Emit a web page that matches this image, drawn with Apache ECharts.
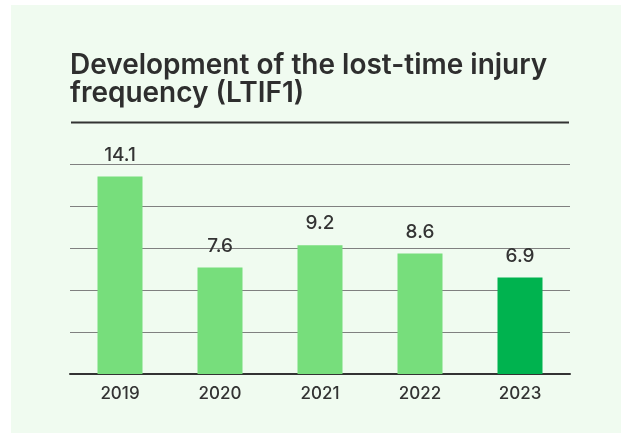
<!DOCTYPE html>
<html>
<head>
<meta charset="utf-8">
<script src="https://cdn.jsdelivr.net/npm/echarts@6/dist/echarts.min.js"></script>
<style>
html,body{margin:0;padding:0;background:#ffffff;}
#c{width:621px;height:433px;}
</style>
</head>
<body>
<div id="c"></div>
<script>
const years = ['2019', '2020', '2021', '2022', '2023'];
const ltif = [14.1, 7.6, 9.2, 8.6, 6.9];
const barColors = ['#77DE7C', '#77DE7C', '#77DE7C', '#77DE7C', '#00B34F'];
const titleLines = ['Development of the lost-time injury', 'frequency (LTIF1)'];

const chart = echarts.init(document.getElementById('c'), null, {renderer: 'canvas'});
chart.setOption({
  backgroundColor: '#ffffff',
  animation: false,
  graphic: [
    {type: 'rect', z: -10, shape: {x: 11, y: 5, width: 610, height: 428}, style: {fill: '#F0FBF0'}},
    {type: 'text', left: 70, top: 52, style: {text: titleLines.join('\n'), font: '600 28px Inter', fill: '#2E2E2E', lineHeight: 28}},
    {type: 'line', shape: {x1: 71, y1: 122.5, x2: 569, y2: 122.5}, style: {stroke: '#333333', lineWidth: 2}}
  ],
  grid: {left: 70, right: 51, top: 164, bottom: 59, containLabel: false},
  xAxis: {
    type: 'category',
    data: years,
    axisLine: {lineStyle: {color: '#333333', width: 2}},
    axisTick: {show: false},
    axisLabel: {color: '#333333', fontSize: 17, fontWeight: 500, fontFamily: 'Inter', margin: 11}
  },
  yAxis: {
    type: 'value',
    min: 0, max: 15, interval: 3,
    axisLabel: {show: false},
    axisLine: {show: false},
    axisTick: {show: false},
    splitLine: {lineStyle: {color: '#808080', width: 1}}
  },
  series: [{
    type: 'bar',
    barWidth: 45,
    data: ltif.map((v, i) => ({value: v, itemStyle: {color: barColors[i]}})),
    label: {show: true, position: 'top', distance: 12, color: '#333333', fontSize: 19, fontWeight: 500, fontFamily: 'Inter'}
  }]
});
</script>
</body>
</html>
